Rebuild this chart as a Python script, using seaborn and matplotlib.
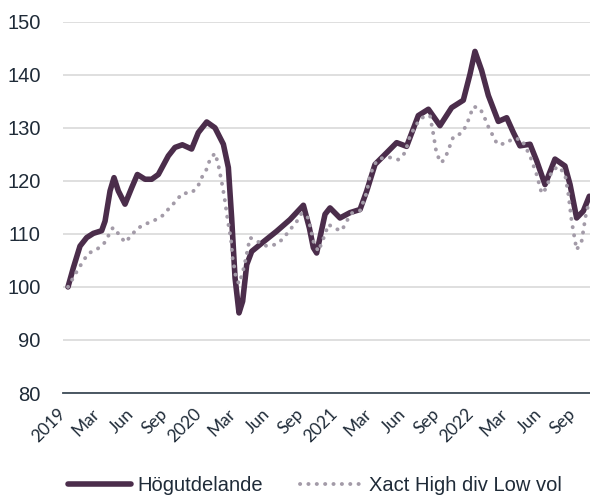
import pandas as pd
import numpy as np
import seaborn as sns
import matplotlib.pyplot as plt

# months since start of 2019 (x) and index level (y)
hog_month = [0.44, 0.91, 1.5, 2.09, 2.68, 3.41, 3.71, 4.15, 4.5, 4.88, 5.47, 6.06, 6.56, 7.24,
             7.82, 8.41, 9.29, 9.88, 10.53, 11.35, 11.94, 12.68, 13.41, 14.15, 14.59, 14.88,
             15.18, 15.53, 15.85, 16.21, 16.65, 17.68, 18.85, 20.03, 21.21, 21.74, 22.09,
             22.38, 23.12, 23.56, 24.44, 25.32, 26.21, 26.8, 27.53, 28.56, 29.44, 30.32,
             31.35, 32.24, 33.26, 34.29, 35.32, 35.91, 36.35, 36.94, 37.53, 38.41, 39.15,
             39.74, 40.32, 41.21, 41.79, 42.53, 43.41, 44.29, 44.74, 45.32, 45.91, 46.44]
hog_value = [100, 103.6, 107.7, 109.3, 110.1, 110.6, 112.4, 118.1, 120.6, 118.1, 115.6, 118.7,
             121.2, 120.3, 120.3, 121.2, 124.7, 126.3, 126.8, 126.0, 129.1, 131.1, 130.0, 126.9,
             122.5, 113.0, 101.7, 95.1, 97.3, 104.2, 106.7, 108.5, 110.5, 112.7, 115.4, 111.1,
             107.4, 106.4, 113.7, 114.9, 113.0, 114.0, 114.6, 118.1, 123.1, 125.3, 127.2, 126.5,
             132.3, 133.5, 130.4, 133.8, 135.2, 140.1, 144.4, 140.8, 136.1, 131.2, 131.9, 129.1,
             126.6, 126.9, 123.8, 119.3, 124.1, 122.8, 119.3, 113.0, 114.3, 117.1]

xact_month = [0.44, 1.32, 2.21, 3.0, 3.62, 4.41, 4.94, 5.47, 6.0, 6.53, 7.32, 8.03, 8.82, 9.35,
              9.97, 10.5, 11.38, 11.91, 12.26, 12.7, 12.97, 13.41, 13.68, 14.0, 14.15, 14.29,
              14.53, 14.68, 14.82, 14.97, 15.12, 15.26, 15.53, 15.79, 16.0, 16.5, 17.23, 17.97,
              18.77, 19.44, 19.94, 20.53, 21.06, 21.65, 22.09, 22.53, 23.12, 23.41, 24.0, 24.59,
              25.03, 25.47, 26.21, 26.8, 27.09, 27.68, 28.26, 28.85, 29.59, 30.18, 30.62, 31.21,
              31.65, 32.38, 32.68, 32.97, 33.41, 33.85, 34.44, 35.18, 35.62, 35.91, 36.2, 36.79,
              37.18, 37.53, 37.91, 38.32, 39.0, 39.74, 40.47, 41.21, 41.79, 42.24, 42.68, 43.12,
              43.71, 44.29, 44.59, 44.88, 45.32, 45.76, 46.15, 46.44]
xact_value = [100, 103.3, 106.3, 107.1, 108.2, 111.2, 109.9, 108.4, 109.6, 111.0, 111.9, 112.5,
              113.5, 114.8, 116.2, 117.6, 117.8, 119.0, 120.7, 122.3, 124.1, 125.2, 123.3, 119.8,
              118.0, 116.2, 112.6, 110.7, 109.0, 105.3, 103.6, 101.7, 100.6, 102.3, 104.0, 109.3,
              108.5, 107.7, 108.0, 109.1, 110.6, 112.0, 113.9, 113.0, 108.6, 106.7, 109.9, 111.8,
              111.0, 110.6, 112.4, 113.9, 114.4, 117.8, 121.2, 123.8, 124.4, 124.4, 124.0, 125.3,
              128.5, 130.7, 131.9, 132.3, 128.8, 125.0, 123.4, 125.0, 128.3, 129.0, 130.6, 132.3,
              134.0, 133.7, 132.0, 130.2, 128.6, 126.9, 127.0, 128.0, 127.8, 124.7, 121.2, 117.6,
              118.7, 121.9, 122.7, 121.3, 117.5, 112.4, 107.0, 108.6, 113.8, 116.2]

tick_labels = ['2019', 'Mar', 'Jun', 'Sep', '2020', 'Mar', 'Jun', 'Sep',
               '2021', 'Mar', 'Jun', 'Sep', '2022', 'Mar', 'Jun', 'Sep']

hog = pd.DataFrame({'month': hog_month, 'value': hog_value})
xact = pd.DataFrame({'month': xact_month, 'value': xact_value})

sns.set_style('white')
plt.rcParams['font.family'] = ['Liberation Sans', 'DejaVu Sans']
text_col = '#1f2b38'

fig = plt.figure(figsize=(5.9, 4.98), dpi=100)
ax = fig.add_axes([0.1068, 0.2108, 0.8932, 0.7456])

sns.lineplot(data=hog, x='month', y='value', ax=ax, color='#4b2d4b', lw=4,
             label='Högutdelande', solid_capstyle='round', solid_joinstyle='round',
             sort=False)
sns.lineplot(data=xact, x='month', y='value', ax=ax, color='#a39ba8', lw=2.8,
             label='Xact High div Low vol', linestyle=(0, (0.05, 2.1)),
             dash_capstyle='round', sort=False)

ax.set_xlim(0, 46.5)
ax.set_ylim(80, 150)
ax.set_yticks(range(80, 151, 10))
ax.set_xticks(range(0, 46, 3))
ax.set_xticklabels(tick_labels, rotation=45, ha='right', va='center',
                   rotation_mode='anchor', fontsize=12.5, color=text_col, family='Lato')
ax.tick_params(axis='y', length=0, pad=16, labelsize=14.5, labelcolor=text_col)
ax.tick_params(axis='x', direction='out', length=4, width=1.2, color='#3d4b57', pad=9)
ax.set_xlabel('')
ax.set_ylabel('')

ax.grid(axis='y', color='#d9d9d9', lw=1.2)
ax.grid(axis='x', visible=False)
for s in ['top', 'right', 'left']:
    ax.spines[s].set_visible(False)
ax.spines['bottom'].set_color('#3d4b57')
ax.spines['bottom'].set_linewidth(1.3)
ax.spines['bottom'].set_zorder(5)

ax.legend(loc='center', bbox_to_anchor=(0.534, 0.026), bbox_transform=fig.transFigure,
          ncol=2, frameon=False, fontsize=14.5, handlelength=3.1, handletextpad=0.35,
          columnspacing=1.8, labelcolor=text_col)

fig.savefig('out.png', dpi=100)
